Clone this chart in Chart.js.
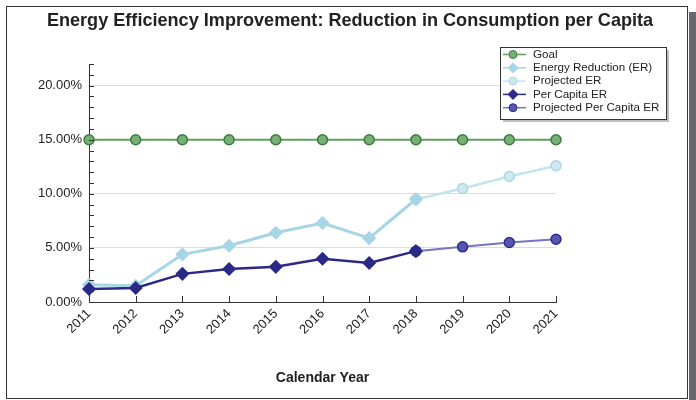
<!DOCTYPE html>
<html>
<head>
<meta charset="utf-8">
<script src="https://cdn.jsdelivr.net/npm/chart.js@4.4.1/dist/chart.umd.min.js"></script>
<style>
    html, body { margin: 0; padding: 0; background: #fff; }
    canvas { display: block; }
</style>
</head>
<body>
<canvas id="effChart" width="696" height="400"></canvas>
<script>
// data (percent)
const years = ['2011', '2012', '2013', '2014', '2015', '2016', '2017', '2018', '2019', '2020', '2021'];
const goal = [15, 15, 15, 15, 15, 15, 15, 15, 15, 15, 15];
const energyReduction = [1.6, 1.5, 4.4, 5.2, 6.4, 7.3, 5.9, 9.5, null, null, null];
const projectedER = [null, null, null, null, null, null, null, 9.5, 10.5, 11.6, 12.6];
const perCapitaER = [1.2, 1.3, 2.6, 3.05, 3.25, 4.0, 3.6, 4.7, null, null, null];
const projectedPerCapitaER = [null, null, null, null, null, null, null, 4.7, 5.1, 5.5, 5.8];
const yTicks = [0, 5, 10, 15, 20];

const FONT = '"Liberation Sans", Arial, sans-serif';
const TITLE = 'Energy Efficiency Improvement: Reduction in Consumption per Capita';

// frame, shadow, title and inside tick marks
const framePlugin = {
    id: 'frame',
    beforeDraw(chart) {
        const ctx = chart.ctx;
        ctx.save();
        ctx.fillStyle = '#fff';
        ctx.fillRect(0, 0, chart.width, chart.height);
        ctx.fillStyle = '#68686e';
        ctx.fillRect(689, 12, 7, 388);
        ctx.strokeStyle = '#333';
        ctx.lineWidth = 1;
        ctx.strokeRect(6.5, 6.5, 681, 392);

        ctx.fillStyle = '#222';
        ctx.font = 'bold 18.1px ' + FONT;
        ctx.textAlign = 'center';
        ctx.textBaseline = 'middle';
        ctx.fillText(TITLE, 350, 21);
        ctx.restore();
    },
    afterDatasetsDraw(chart) {
        const ctx = chart.ctx;
        const x = chart.scales.x;
        const y = chart.scales.y;
        ctx.save();
        ctx.strokeStyle = '#333';
        ctx.lineWidth = 1;
        ctx.beginPath();
        for (let v = 0; v <= 22; v++) {
            const py = Math.round(y.getPixelForValue(v)) + 0.5;
            ctx.moveTo(x.left, py);
            ctx.lineTo(x.left + 5, py);
        }
        for (let i = 0; i < years.length; i++) {
            const px = Math.round(x.getPixelForValue(i)) + 0.5;
            ctx.moveTo(px, y.bottom);
            ctx.lineTo(px, y.bottom - 6);
        }
        ctx.stroke();
        ctx.restore();
    }
};

// boxed legend at the upper right, line + marker per series
const legendPlugin = {
    id: 'boxLegend',
    afterDraw(chart) {
        const ctx = chart.ctx;
        const left = 500, top = 47, w = 166, h = 72;
        ctx.save();
        ctx.fillStyle = '#bdbdbd';
        ctx.fillRect(left + 3, top + 3, w, h);
        ctx.fillStyle = '#fff';
        ctx.fillRect(left, top, w, h);
        ctx.strokeStyle = '#333';
        ctx.lineWidth = 1;
        ctx.strokeRect(left + 0.5, top + 0.5, w, h);

        ctx.font = '11.6px ' + FONT;
        ctx.textBaseline = 'middle';
        chart.data.datasets.forEach((ds, i) => {
            const cy = top + 7.5 + i * 13.3;
            ctx.strokeStyle = ds.borderColor;
            ctx.lineWidth = 1.5;
            ctx.beginPath();
            ctx.moveTo(left + 3, cy);
            ctx.lineTo(left + 26, cy);
            ctx.stroke();
            ctx.fillStyle = ds.pointBackgroundColor;
            ctx.strokeStyle = ds.pointBorderColor;
            ctx.lineWidth = 1;
            ctx.beginPath();
            if (ds.pointStyle === 'rectRot') {
                ctx.moveTo(left + 13, cy - 5);
                ctx.lineTo(left + 18, cy);
                ctx.lineTo(left + 13, cy + 5);
                ctx.lineTo(left + 8, cy);
                ctx.closePath();
            } else {
                ctx.arc(left + 13, cy, 4, 0, Math.PI * 2);
            }
            ctx.fill();
            ctx.stroke();
            ctx.fillStyle = '#222';
            ctx.fillText(ds.label, left + 33, cy);
        });
        ctx.restore();
    }
};

function series(label, data, color, pointStyle, pointBg, pointBorder, width, radius, order) {
    return {
        label: label,
        data: data,
        borderColor: color,
        backgroundColor: color,
        borderWidth: width,
        pointStyle: pointStyle,
        pointRadius: radius,
        pointHoverRadius: radius,
        pointBackgroundColor: pointBg,
        pointBorderColor: pointBorder,
        pointBorderWidth: 1.5,
        tension: 0,
        spanGaps: false,
        order: order
    };
}

const ctx = document.getElementById('effChart').getContext('2d');
new Chart(ctx, {
    type: 'line',
    data: {
        labels: years,
        datasets: [
            series('Goal', goal, '#5f9e5f', 'circle', '#77b077', '#3f7a3f', 2, 5, 0),
            series('Energy Reduction (ER)', energyReduction, '#a6d6e3', 'rectRot', '#a6d6e3', '#a6d6e3', 3, 6, 4),
            series('Projected ER', projectedER, '#c3e5ee', 'circle', '#cfe9f1', '#a9d7e4', 2.5, 5, 5),
            series('Per Capita ER', perCapitaER, '#2a2a86', 'rectRot', '#2a2a86', '#2a2a86', 2.5, 6, 1),
            series('Projected Per Capita ER', projectedPerCapitaER, '#7474c4', 'circle', '#5656b0', '#2e2e8c', 2, 5, 2)
        ]
    },
    options: {
        responsive: false,
        animation: false,
        devicePixelRatio: 1,
        layout: { padding: { left: 0, right: 140, top: 64, bottom: 0 } },
        plugins: {
            legend: { display: false },
            tooltip: { enabled: false },
            title: { display: false }
        },
        scales: {
            x: {
                offset: false,
                grid: { display: false, drawTicks: false },
                border: { display: true, color: '#333', width: 1 },
                ticks: {
                    color: '#222',
                    font: { family: FONT, size: 13 },
                    minRotation: 45,
                    maxRotation: 45,
                    padding: 4,
                    autoSkip: false
                },
                title: {
                    display: true,
                    text: 'Calendar Year',
                    color: '#222',
                    font: { family: FONT, size: 14, weight: 'bold' },
                    padding: { top: 0, bottom: 13 }
                },
                afterFit(scale) { scale.height = 98; }
            },
            y: {
                min: 0,
                max: 22,
                grid: { color: '#dcdcdc', drawTicks: false },
                border: { display: true, color: '#333', width: 1 },
                ticks: {
                    color: '#222',
                    font: { family: FONT, size: 13 },
                    padding: 7,
                    callback: v => v.toFixed(2) + '%'
                },
                afterBuildTicks(scale) {
                    scale.ticks = yTicks.map(v => ({ value: v }));
                },
                afterFit(scale) { scale.width = 89; }
            }
        }
    },
    plugins: [framePlugin, legendPlugin]
});
</script>
</body>
</html>
